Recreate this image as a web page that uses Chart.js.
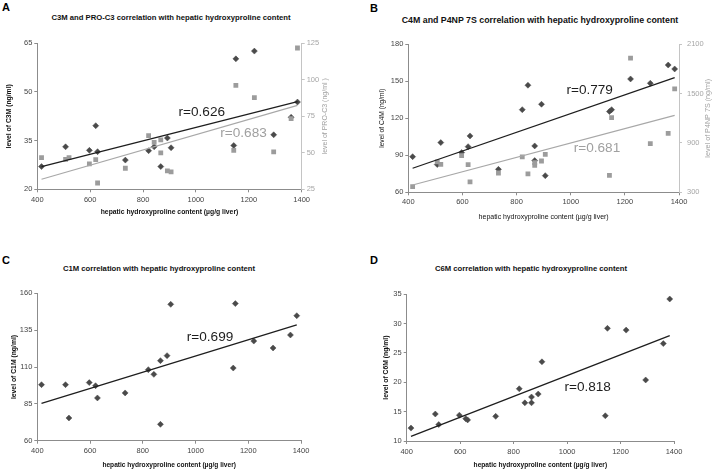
<!DOCTYPE html>
<html>
<head>
<meta charset="utf-8">
<script src="https://cdn.jsdelivr.net/npm/chart.js@4.4.1/dist/chart.umd.min.js"></script>
<style>
  body { margin: 0; background: #fff; width: 714px; height: 470px; position: relative; overflow: hidden;
         font-family: Arial, "Liberation Sans", sans-serif; }
  .panel { position: absolute; width: 357px; height: 235px; }
  .letter { position: absolute; font-weight: bold; font-size: 11px; line-height: 1; color: #000; }
  .title { position: absolute; font-weight: bold; font-size: 7.7px; line-height: 1; color: #111;
           white-space: nowrap; transform: translateX(-50%); }
</style>
</head>
<body>
<div class="letter" style="left:2px;top:2px">A</div>
<div class="letter" style="left:370px;top:3px">B</div>
<div class="letter" style="left:2px;top:255px">C</div>
<div class="letter" style="left:370px;top:255px">D</div>
<div class="title" style="left:171px;top:14px">C3M and PRO-C3 correlation with hepatic hydroxyproline content</div>
<div class="title" style="left:540px;top:16px;font-size:8.8px">C4M and P4NP 7S correlation with hepatic hydroxyproline content</div>
<div class="title" style="left:159px;top:265px">C1M correlation with hepatic hydroxyproline content</div>
<div class="title" style="left:531px;top:265px">C6M correlation with hepatic hydroxyproline content</div>

<canvas id="chartA" class="panel" width="357" height="235" style="left:0;top:0"></canvas>
<canvas id="chartB" class="panel" width="357" height="235" style="left:357px;top:0"></canvas>
<canvas id="chartC" class="panel" width="357" height="235" style="left:0;top:235px"></canvas>
<canvas id="chartD" class="panel" width="357" height="235" style="left:357px;top:235px"></canvas>

<script>
// hepatic hydroxyproline content (µg/g liver), same animals in every panel
const hydroxyproline = [416, 507, 520, 597, 621, 628, 733, 821, 842, 867, 867, 892, 906, 1143, 1151, 1221, 1294, 1360, 1384];

// marker levels (ng/ml); null = not visible in the figure
const c3m    = [27.0, 33.1, null, 32.0, 39.6, 31.6, 29.0, 31.9, 33.1, 27.0, null, 35.8, 32.8, 33.5, 60.2, 62.6, 36.8, 42.2, 46.9];
const proC3  = [46.7, 45.5, 46.7, 42.4, 45.3, 29.3, 39.4, 61.8, 57.2, 58.8, 49.9, 37.6, 36.9, 51.7, 96.2, 87.8, 50.6, 73.4, 121.8];
const c4m    = [88.9, 82.5, 100.3, 92.2, 97.0, 105.7, 78.6, 127.0, 146.8, 97.6, 85.7, 131.4, 73.5, 125.5, 127.0, 151.9, 148.4, 163.2, 160.0];
const p4np7s = [369, 669, 640, 746, 636, 426, 535, 730, 523, 661, 628, 681, 762, 507, 1208, 1933, 892, 1017, 1557];
const c1m    = [98.0, 98.0, 75.4, 99.4, 97.3, 89.0, 92.4, 108.2, 105.0, 114.3, 71.1, 117.7, 152.5, 109.3, 153.0, 127.6, 122.9, 131.7, 144.8];
const c6m    = [12.2, 14.6, 12.8, 14.4, 13.8, 13.6, 14.2, 18.9, 16.5, 17.5, 16.5, 18.0, 23.5, 14.3, 29.2, 28.9, 20.4, 26.6, 34.2];

// linear trendlines as drawn in the figure (ends at the first and last x)
const trendX      = [416, 1384];
const c3mTrend    = [27.0, 47.0];
const proC3Trend  = [31.9, 82.5];
const c4mTrend    = [79.5, 153.0];
const p4npTrend   = [389, 1236];
const c1mTrend    = [85.3, 138.5];
const c6mTrend    = [10.8, 27.95];

// tick labels
const xTicks     = [400, 600, 800, 1000, 1200, 1400];
const c3mTicks   = [20, 35, 50, 65];
const proC3Ticks = [25, 50, 75, 100, 125];
const c4mTicks   = [60, 90, 120, 150, 180];
const p4npTicks  = [300, 900, 1500, 2100];
const c1mTicks   = [60, 85, 110, 135, 160];
const c6mTicks   = [10, 15, 20, 25, 30, 35];

const FONT = 'Arial, "Liberation Sans", sans-serif';
const DARK = '#4a4a4a', GREY = '#9c9c9c';

function points(ys) {
  return hydroxyproline.map((x, i) => ({ x: x, y: ys[i] })).filter(p => p.y !== null);
}
function trend(ys) {
  return trendX.map((x, i) => ({ x: x, y: ys[i] }));
}
function fixedTicks(list) {
  return s => { s.ticks = list.map(v => ({ value: v })); };
}
const plain = v => String(v);

// draws the right axis title (bottom-to-top) and the r= labels
const extraText = {
  id: 'extraText',
  afterDatasetsDraw(chart, args, opts) {
    const ctx = chart.ctx;
    ctx.save();
    (opts.labels || []).forEach(l => {
      const px = chart.scales.x.getPixelForValue(l.x);
      const py = chart.scales[l.axis].getPixelForValue(l.y);
      ctx.font = '13.6px ' + FONT;
      ctx.fillStyle = l.color;
      ctx.textAlign = 'center';
      ctx.textBaseline = 'middle';
      ctx.fillText(l.text, px, py);
    });
    if (opts.rightTitle) {
      const a = chart.chartArea;
      ctx.translate(opts.rightTitle.x, (a.top + a.bottom) / 2);
      ctx.rotate(-Math.PI / 2);
      ctx.font = opts.rightTitle.size + 'px ' + FONT;
      ctx.fillStyle = '#a0a0a0';
      ctx.textAlign = 'center';
      ctx.textBaseline = 'middle';
      ctx.fillText(opts.rightTitle.text, 0, 0);
    }
    ctx.restore();
  }
};

function makeChart(id, p) {
  const W = 357, H = 235, b = p.box;
  const datasets = [
    { data: points(p.left), yAxisID: 'y', pointStyle: 'rectRot', pointRadius: 3,
      backgroundColor: DARK, borderColor: DARK, borderWidth: 0.5, order: 3 },
    { data: trend(p.leftTrend), yAxisID: 'y', showLine: true, pointRadius: 0,
      borderColor: '#1e1e1e', borderWidth: 1.3, order: 1 }
  ];
  const scales = {
    x: {
      type: 'linear', min: xTicks[0], max: xTicks[xTicks.length - 1],
      afterBuildTicks: fixedTicks(xTicks),
      afterFit: s => { s.height = H - b.bottom; },
      border: { color: '#8c8c8c' },
      grid: { drawOnChartArea: false, tickLength: 3, color: '#8c8c8c' },
      ticks: { color: '#444', font: { family: FONT, size: 7.5 }, padding: p.xTickPad, maxRotation: 0, callback: plain },
      title: { display: true, text: 'hepatic hydroxyproline content (µg/g liver)', color: '#111',
               font: { family: FONT, size: p.xTitleSize, weight: p.bold ? 'bold' : 'normal' },
               padding: { top: 0, bottom: p.xTitlePad } }
    },
    y: {
      type: 'linear', position: 'left', min: p.leftTicks[0], max: p.leftTicks[p.leftTicks.length - 1],
      afterBuildTicks: fixedTicks(p.leftTicks),
      afterFit: s => { s.width = b.left; },
      border: { color: '#8c8c8c' },
      grid: { drawOnChartArea: false, tickLength: 3, color: '#8c8c8c' },
      ticks: { color: '#444', font: { family: FONT, size: 7.5 }, padding: 2, callback: plain },
      title: { display: true, text: p.leftTitle, color: '#111',
               font: { family: FONT, size: p.yTitleSize, weight: p.bold ? 'bold' : 'normal' },
               padding: { top: p.yTitlePad, bottom: 0 } }
    }
  };
  if (p.right) {
    datasets.push(
      { data: points(p.right), yAxisID: 'y2', pointStyle: 'rect', pointRadius: 3.4,
        backgroundColor: GREY, borderColor: GREY, borderWidth: 0, order: 2 },
      { data: trend(p.rightTrend), yAxisID: 'y2', showLine: true, pointRadius: 0,
        borderColor: '#a8a8a8', borderWidth: 1.2, order: 1 }
    );
    scales.y2 = {
      type: 'linear', position: 'right', min: p.rightTicks[0], max: p.rightTicks[p.rightTicks.length - 1],
      afterBuildTicks: fixedTicks(p.rightTicks),
      afterFit: s => { s.width = W - b.right; },
      border: { color: '#c4c4c4' },
      grid: { drawOnChartArea: false, tickLength: 3, color: '#c4c4c4' },
      ticks: { color: '#a6a6a6', font: { family: FONT, size: 7.5 }, padding: p.rightTickPad, callback: plain }
    };
  }
  return new Chart(document.getElementById(id), {
    type: 'scatter',
    data: { datasets: datasets },
    options: {
      responsive: false,
      animation: false,
      devicePixelRatio: 1,
      layout: { padding: { top: b.top, left: 0, bottom: 0, right: p.right ? 0 : W - b.right } },
      scales: scales,
      plugins: {
        legend: { display: false },
        tooltip: { enabled: false },
        extraText: { labels: p.labels, rightTitle: p.rightTitle }
      }
    },
    plugins: [extraText]
  });
}

makeChart('chartA', {
  box: { left: 37.3, right: 301.7, top: 43.3, bottom: 189.3 },
  left: c3m, leftTrend: c3mTrend, leftTicks: c3mTicks, leftTitle: 'level of C3M (ng/ml)',
  right: proC3, rightTrend: proC3Trend, rightTicks: proC3Ticks, rightTickPad: 2,
  rightTitle: { text: 'level of PRO-C3 (ng/ml )', x: 325, size: 7 },
  bold: true, xTitleSize: 6.8, xTitlePad: 18.9, yTitleSize: 6.8, yTitlePad: 5.2, xTickPad: 3,
  labels: [
    { text: 'r=0.626', x: 1022, y: 43.6, axis: 'y', color: '#1e1e1e' },
    { text: 'r=0.683', x: 1180, y: 37.3, axis: 'y', color: '#a0a0a0' }
  ]
});

makeChart('chartB', {
  box: { left: 51.3, right: 322, top: 44.3, bottom: 192.3 },
  left: c4m, leftTrend: c4mTrend, leftTicks: c4mTicks, leftTitle: 'level of C4M (ng/ml)',
  right: p4np7s, rightTrend: p4npTrend, rightTicks: p4npTicks, rightTickPad: 5,
  rightTitle: { text: 'level of P4NP 7S (ng/ml)', x: 350.7, size: 7.2 },
  bold: false, xTitleSize: 7, xTitlePad: 13.5, yTitleSize: 6.6, yTitlePad: 21, xTickPad: 2.5,
  labels: [
    { text: 'r=0.779', x: 1070, y: 142.4, axis: 'y', color: '#1e1e1e' },
    { text: 'r=0.681', x: 1097, y: 95.7, axis: 'y', color: '#a0a0a0' }
  ]
});

makeChart('chartC', {
  box: { left: 37.3, right: 301, top: 58.3, bottom: 205.7 },
  left: c1m, leftTrend: c1mTrend, leftTicks: c1mTicks, leftTitle: 'level of C1M (ng/ml)',
  bold: true, xTitleSize: 6.6, xTitlePad: 1, yTitleSize: 6.8, yTitlePad: 9.9, xTickPad: 2.8,
  labels: [
    { text: 'r=0.699', x: 1055, y: 130, axis: 'y', color: '#1e1e1e' }
  ]
});

makeChart('chartD', {
  box: { left: 49.7, right: 317, top: 59.3, bottom: 206 },
  left: c6m, leftTrend: c6mTrend, leftTicks: c6mTicks, leftTitle: 'level of C6M (ng/ml)',
  bold: true, xTitleSize: 6.6, xTitlePad: 1, yTitleSize: 6.8, yTitlePad: 25.2, xTickPad: 3.8,
  labels: [
    { text: 'r=0.818', x: 1077, y: 19.1, axis: 'y', color: '#1e1e1e' }
  ]
});
</script>
</body>
</html>
